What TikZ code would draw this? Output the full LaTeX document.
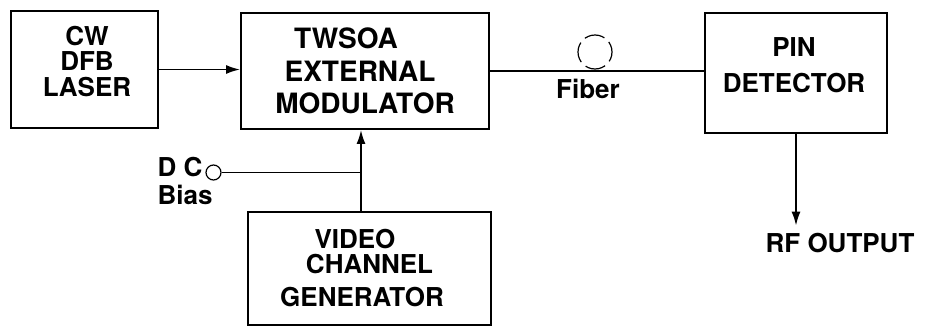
\documentclass[tikz,border=0pt]{standalone}
\usepackage{fontspec}
\setmainfont{TeX Gyre Heros}
\usetikzlibrary{arrows.meta}

\begin{document}
\begin{tikzpicture}[x=0.5pt, y=-0.5pt, line width=0.9pt, >={Latex[length=7pt, width=4.5pt]},
    block/.style={draw, inner sep=0pt, align=center, font=\bfseries\fontsize{13}{13}\selectfont},
    txt/.style={align=center, font=\bfseries\fontsize{13}{13}\selectfont}]
    \useasboundingbox (0,0) rectangle (928,327);

    \node[block, minimum width=73.5pt, minimum height=58.5pt] (laser) at (84.5,69.5) {};
    \node[txt, font=\bfseries\fontsize{13}{12.75}\selectfont] (lasertxt) at (87,61.5) {CW\\DFB\\LASER};
    \node[block, minimum width=124pt, minimum height=58pt, font=\bfseries\fontsize{14}{16.25}\selectfont] (mod) at (365,71)
        {TWSOA\rule{19pt}{0pt}\\EXTERNAL\rule{5pt}{0pt}\\MODULATOR};
    \node[block, minimum width=91pt, minimum height=60pt] (pin) at (796,73) {};
    \node[txt, font=\bfseries\fontsize{13}{18}\selectfont] (pintxt) at (794,65) {PIN\\DETECTOR};
    \node[block, minimum width=121.5pt, minimum height=56.5pt, font=\bfseries\fontsize{13}{12.5}\selectfont] (video) at (369.5,268.5)
        {VIDEO\rule{14.5pt}{0pt}\\CHANNEL\\[4pt]GENERATOR\rule{7.5pt}{0pt}};

    \node[draw, circle, line width=0.6pt, minimum size=17pt, inner sep=0pt, dash pattern=on 10.35pt off 3pt, dash phase=5pt] (coil) at (595,52) {};
    \node[txt] (fiber) at (588,88.5) {Fiber};
    \node[txt] (rf) at (840,243) {RF OUTPUT};
    \node[txt, align=left, inner sep=0pt, font=\bfseries\fontsize{13}{14}\selectfont] (dctxt) at (185,181) {D C\\Bias};
    \node[draw, circle, line width=0.6pt, minimum size=7.5pt, inner sep=0pt] (dc) at (213.5,172.5) {};
    \coordinate (feed) at (361,172.5);

    \draw[->] (laser.east) -- (laser.east -| mod.west);
    \draw (mod.east) -- (mod.east -| pin.west);
    \draw[->] (video.north -| feed) -- (mod.south -| feed);
    \draw (dc.east) -- (feed);
    \draw[->] (pin.south) -- (pin.south |- rf.north);
\end{tikzpicture}
\end{document}
